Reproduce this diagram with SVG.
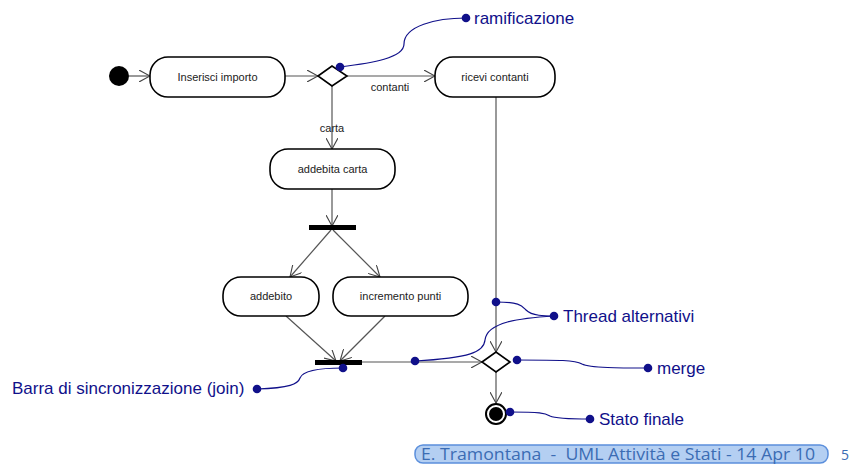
<svg xmlns="http://www.w3.org/2000/svg" width="856" height="464" viewBox="0 0 856 464">
<style>
.act{fill:#fff;stroke:#000;stroke-width:1.6}
.lbl{font-family:"Liberation Sans",Arial,sans-serif;font-size:11px;fill:#222;text-anchor:middle}
.edge{stroke:#555;stroke-width:1.2;fill:none}
.note{stroke:#10108a;stroke-width:1.2;fill:none}
.dot{fill:#10108a}
.ntxt{font-family:"Liberation Sans",Arial,sans-serif;font-size:17px;fill:#10108a}
</style>
<defs>
<marker id="arr" viewBox="0 0 12 12" refX="11" refY="6" markerWidth="12" markerHeight="12" markerUnits="userSpaceOnUse" orient="auto">
<path d="M0,0 L11,6 L0,12" fill="none" stroke="#444" stroke-width="1.1"/>
</marker>
</defs>
<rect width="856" height="464" fill="#fff"/>
<g id="connectors">
<line class="edge" x1="129" y1="76" x2="150" y2="76" marker-end="url(#arr)"/>
<line class="edge" x1="285" y1="76" x2="318" y2="76" marker-end="url(#arr)"/>
<line class="edge" x1="347" y1="76" x2="435" y2="76" marker-end="url(#arr)"/>
<line class="edge" x1="332" y1="86" x2="332" y2="149" marker-end="url(#arr)"/>
<line class="edge" x1="332" y1="189" x2="332" y2="226" marker-end="url(#arr)"/>
<line class="edge" x1="331" y1="230" x2="290" y2="277" marker-end="url(#arr)"/>
<line class="edge" x1="333" y1="230" x2="380" y2="277" marker-end="url(#arr)"/>
<line class="edge" x1="286" y1="316" x2="336" y2="361" marker-end="url(#arr)"/>
<line class="edge" x1="385" y1="316" x2="340" y2="361" marker-end="url(#arr)"/>
<line class="edge" x1="362" y1="362" x2="482" y2="362" marker-end="url(#arr)"/>
<line class="edge" x1="496" y1="97" x2="496" y2="352" marker-end="url(#arr)"/>
<line class="edge" x1="496" y1="372" x2="496" y2="403" marker-end="url(#arr)"/>
<text class="lbl" x="390" y="91">contanti</text>
<text class="lbl" x="332" y="132">carta</text>
</g>
<g id="start"><circle cx="119" cy="76" r="10" fill="#000"/></g>
<g id="inserisci"><rect class="act" x="150" y="57" width="135" height="40" rx="18"/><text class="lbl" x="217.5" y="81">Inserisci importo</text></g>
<g id="branch"><polygon class="act" points="318,76 332,66 347,76 332,86" stroke-width="2"/></g>
<g id="ricevi"><rect class="act" x="435" y="57" width="120" height="40" rx="18"/><text class="lbl" x="495" y="81">ricevi contanti</text></g>
<g id="addebita"><rect class="act" x="270" y="149" width="125" height="40" rx="18"/><text class="lbl" x="332.5" y="173">addebita carta</text></g>
<g id="fork"><rect x="309" y="225" width="47" height="5" fill="#000"/></g>
<g id="addebito"><rect class="act" x="223" y="277" width="96" height="39" rx="18"/><text class="lbl" x="271" y="300">addebito</text></g>
<g id="incremento"><rect class="act" x="333" y="277" width="135" height="39" rx="18"/><text class="lbl" x="400.5" y="300">incremento punti</text></g>
<g id="join"><rect x="315" y="360" width="47" height="5" fill="#000"/></g>
<g id="merge"><polygon class="act" points="482,362 496,352 510,362 496,372" stroke-width="2"/></g>
<g id="final"><circle cx="496" cy="414" r="10" fill="#fff" stroke="#000" stroke-width="2"/><circle cx="496" cy="414" r="7" fill="#000"/></g>
<g id="notes">
<path class="note" d="M340,67 C372,63 404,58 404,44 C404,26 436,18 466,18"/>
<circle class="dot" cx="340" cy="67" r="4.3"/><circle class="dot" cx="466" cy="18" r="4.3"/>
<text class="ntxt" x="474" y="24">ramificazione</text>
<path class="note" d="M496,302 C520,302 522,306 526,310 C532,316 545,316 554,316"/>
<path class="note" d="M415,361 C470,358 484,352 485,340 C487,322 520,318 554,316"/>
<circle class="dot" cx="496" cy="302" r="4.3"/><circle class="dot" cx="415" cy="361" r="4.3"/><circle class="dot" cx="554" cy="316" r="4.3"/>
<text class="ntxt" x="563" y="322">Thread alternativi</text>
<path class="note" d="M517,360 C560,360 575,360 582,364 C590,368 620,368 648,368"/>
<circle class="dot" cx="517" cy="360" r="4.3"/><circle class="dot" cx="648" cy="368" r="4.3"/>
<text class="ntxt" x="657" y="374">merge</text>
<path class="note" d="M510,412 C540,412 545,413 550,416 C556,419 575,419 590,419"/>
<circle class="dot" cx="510" cy="412" r="4.3"/><circle class="dot" cx="590" cy="419" r="4.3"/>
<text class="ntxt" x="599" y="425">Stato finale</text>
<path class="note" d="M257,389 C290,388 298,384 300,378 C303,370 320,368 343,368"/>
<circle class="dot" cx="343" cy="368" r="4.3"/><circle class="dot" cx="257" cy="389" r="4.3"/>
<text class="ntxt" x="12" y="394">Barra di sincronizzazione (join)</text>
</g>
<g id="footer">
<rect x="415" y="445" width="413" height="18" rx="8" fill="#b4cff2" stroke="#5b8fdc" stroke-width="1.5"/>
<text x="421" y="460" xml:space="preserve" style="white-space:pre" font-family="'Open Sans','DejaVu Sans',sans-serif" font-size="16" fill="#3b6cb4" textLength="394" lengthAdjust="spacingAndGlyphs">E. Tramontana  -  UML Attività e Stati - 14 Apr 10</text>
<text x="841" y="460" font-family="'Open Sans','DejaVu Sans',sans-serif" font-size="14" fill="#3b6cb4">5</text>
</g>
</svg>
